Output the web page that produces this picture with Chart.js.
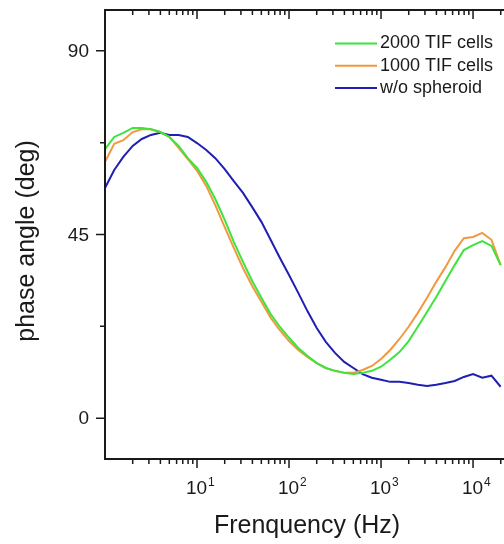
<!DOCTYPE html>
<html>
<head>
<meta charset="utf-8">
<script src="https://cdn.jsdelivr.net/npm/chart.js@4.4.1/dist/chart.umd.min.js"></script>
<style>
  html, body { margin: 0; padding: 0; background: #fff; }
</style>
</head>
<body>
<canvas id="phaseChart" width="504" height="544"></canvas>
<script>
// frequency points (Hz), ~10 per decade
const freqs = [1, 1.26, 1.58, 2, 2.51, 3.16, 3.98, 5.01, 6.31, 7.94,
  10, 12.6, 15.8, 20, 25.1, 31.6, 39.8, 50.1, 63.1, 79.4,
  100, 126, 158, 200, 251, 316, 398, 501, 631, 794,
  1000, 1259, 1585, 1995, 2512, 3162, 3981, 5012, 6310, 7943,
  10000, 12589, 15849, 19953];

// phase angle (deg)
const tif2000 = [65.9, 68.9, 69.9, 71.1, 71.1, 70.8, 70.1, 68.9, 66.7, 63.7,
  61.3, 57.9, 53.7, 48.6, 43.2, 38.3, 33.6, 29.5, 25.5, 22.4,
  19.7, 17.2, 15.3, 13.5, 12.3, 11.6, 11.1, 10.8, 11.1, 11.6,
  12.6, 14.3, 16.2, 18.9, 22.4, 26.0, 29.7, 33.6, 37.5, 41.2,
  42.4, 43.4, 42.2, 37.5];
const tif1000 = [62.8, 67.2, 68.1, 70.1, 70.8, 70.8, 70.1, 68.9, 66.2, 63.5,
  60.6, 56.9, 52.2, 46.8, 41.7, 36.8, 32.4, 28.5, 24.6, 21.6,
  18.9, 16.7, 15.0, 13.5, 12.3, 11.6, 11.1, 11.1, 11.8, 12.8,
  14.5, 16.7, 19.4, 22.4, 25.8, 29.5, 33.4, 37.0, 41.0, 44.1,
  44.4, 45.4, 43.7, 37.5];
const noSpheroid = [56.4, 60.8, 64.0, 66.7, 68.4, 69.4, 69.9, 69.4, 69.4, 68.9,
  67.4, 65.7, 63.7, 61.0, 58.1, 55.2, 51.7, 48.1, 43.7, 39.3,
  35.1, 30.7, 26.3, 22.1, 18.7, 16.0, 13.8, 12.3, 10.8, 9.9,
  9.4, 8.9, 8.9, 8.6, 8.2, 7.9, 8.2, 8.6, 9.1, 10.1,
  10.8, 9.9, 10.4, 7.7];

const seriesNames = ["2000 TIF cells", "1000 TIF cells", "w/o spheroid"];
const seriesColors = ["#3ce43c", "#f0993f", "#1f1fb4"];

const yMajorTicks = [0, 45, 90];
const yMinorTicks = [22.5, 67.5];
const xDecades = [10, 100, 1000, 10000];
const xExponents = ["1", "2", "3", "4"];

const FONT = "'Liberation Sans', Arial, sans-serif";
const INK = "#1a1a1a";

function toPoints(values) {
  return values.map((v, i) => ({ x: freqs[i], y: v }));
}

const frame = {
  id: "frame",
  afterDraw(chart) {
    const { ctx, chartArea: a, scales: { x, y } } = chart;
    ctx.save();
    ctx.strokeStyle = INK;
    ctx.fillStyle = INK;

    // box (left, top, bottom)
    ctx.lineWidth = 2;
    ctx.beginPath();
    ctx.moveTo(a.right + 2, a.top);
    ctx.lineTo(a.left, a.top);
    ctx.lineTo(a.left, a.bottom);
    ctx.lineTo(a.right + 2, a.bottom);
    ctx.stroke();

    // x ticks: out at bottom, in at top
    ctx.lineWidth = 1.5;
    ctx.beginPath();
    for (let d = 1; d <= 10000; d *= 10) {
      for (let n = 1; n <= 9; n++) {
        const v = n * d;
        if (v <= x.min || v > x.max) continue;
        const px = x.getPixelForValue(v);
        const len = n === 1 ? 9 : 5;
        ctx.moveTo(px, a.bottom);
        ctx.lineTo(px, a.bottom + len);
        ctx.moveTo(px, a.top);
        ctx.lineTo(px, a.top + len);
      }
    }
    // y ticks: out at left
    yMajorTicks.forEach(v => {
      const py = y.getPixelForValue(v);
      ctx.moveTo(a.left - 9, py);
      ctx.lineTo(a.left, py);
    });
    yMinorTicks.forEach(v => {
      const py = y.getPixelForValue(v);
      ctx.moveTo(a.left - 5, py);
      ctx.lineTo(a.left, py);
    });
    ctx.stroke();

    // y tick labels
    ctx.font = "19px " + FONT;
    ctx.textAlign = "right";
    ctx.textBaseline = "middle";
    yMajorTicks.forEach(v => {
      ctx.fillText(String(v), a.left - 16, y.getPixelForValue(v) + 1);
    });

    // x tick labels 10^n
    ctx.textBaseline = "alphabetic";
    xDecades.forEach((v, i) => {
      const px = x.getPixelForValue(v);
      ctx.font = "19px " + FONT;
      ctx.textAlign = "right";
      ctx.fillText("10", px + 10, 494);
      ctx.font = "12px " + FONT;
      ctx.textAlign = "left";
      ctx.fillText(xExponents[i], px + 11, 486);
    });

    // axis titles
    ctx.font = "25px " + FONT;
    ctx.textAlign = "center";
    ctx.fillText("Frenquency (Hz)", 307, 533);
    ctx.save();
    ctx.translate(27, 241);
    ctx.rotate(-Math.PI / 2);
    ctx.textBaseline = "middle";
    ctx.fillText("phase angle (deg)", 0, 0);
    ctx.restore();

    // legend
    ctx.font = "18px " + FONT;
    ctx.textAlign = "left";
    ctx.textBaseline = "middle";
    seriesNames.forEach((name, i) => {
      const ly = 43.5 + i * 22.3;
      ctx.strokeStyle = seriesColors[i];
      ctx.lineWidth = 2;
      ctx.beginPath();
      ctx.moveTo(335, ly);
      ctx.lineTo(377, ly);
      ctx.stroke();
      ctx.fillText(name, 380, ly);
    });

    ctx.restore();
  }
};

new Chart(document.getElementById("phaseChart").getContext("2d"), {
  type: "line",
  data: {
    datasets: [tif2000, tif1000, noSpheroid].map((vals, i) => ({
      label: seriesNames[i],
      data: toPoints(vals),
      borderColor: seriesColors[i],
      borderWidth: 2,
      pointRadius: 0,
      tension: 0,
      fill: false
    }))
  },
  options: {
    responsive: false,
    animation: false,
    layout: { padding: { left: 105, top: 10, right: 0, bottom: 85 } },
    plugins: { legend: { display: false }, tooltip: { enabled: false } },
    scales: {
      x: { type: "logarithmic", min: 1, max: 21700, display: false },
      y: { type: "linear", min: -10, max: 100, display: false }
    }
  },
  plugins: [frame]
});
</script>
</body>
</html>
